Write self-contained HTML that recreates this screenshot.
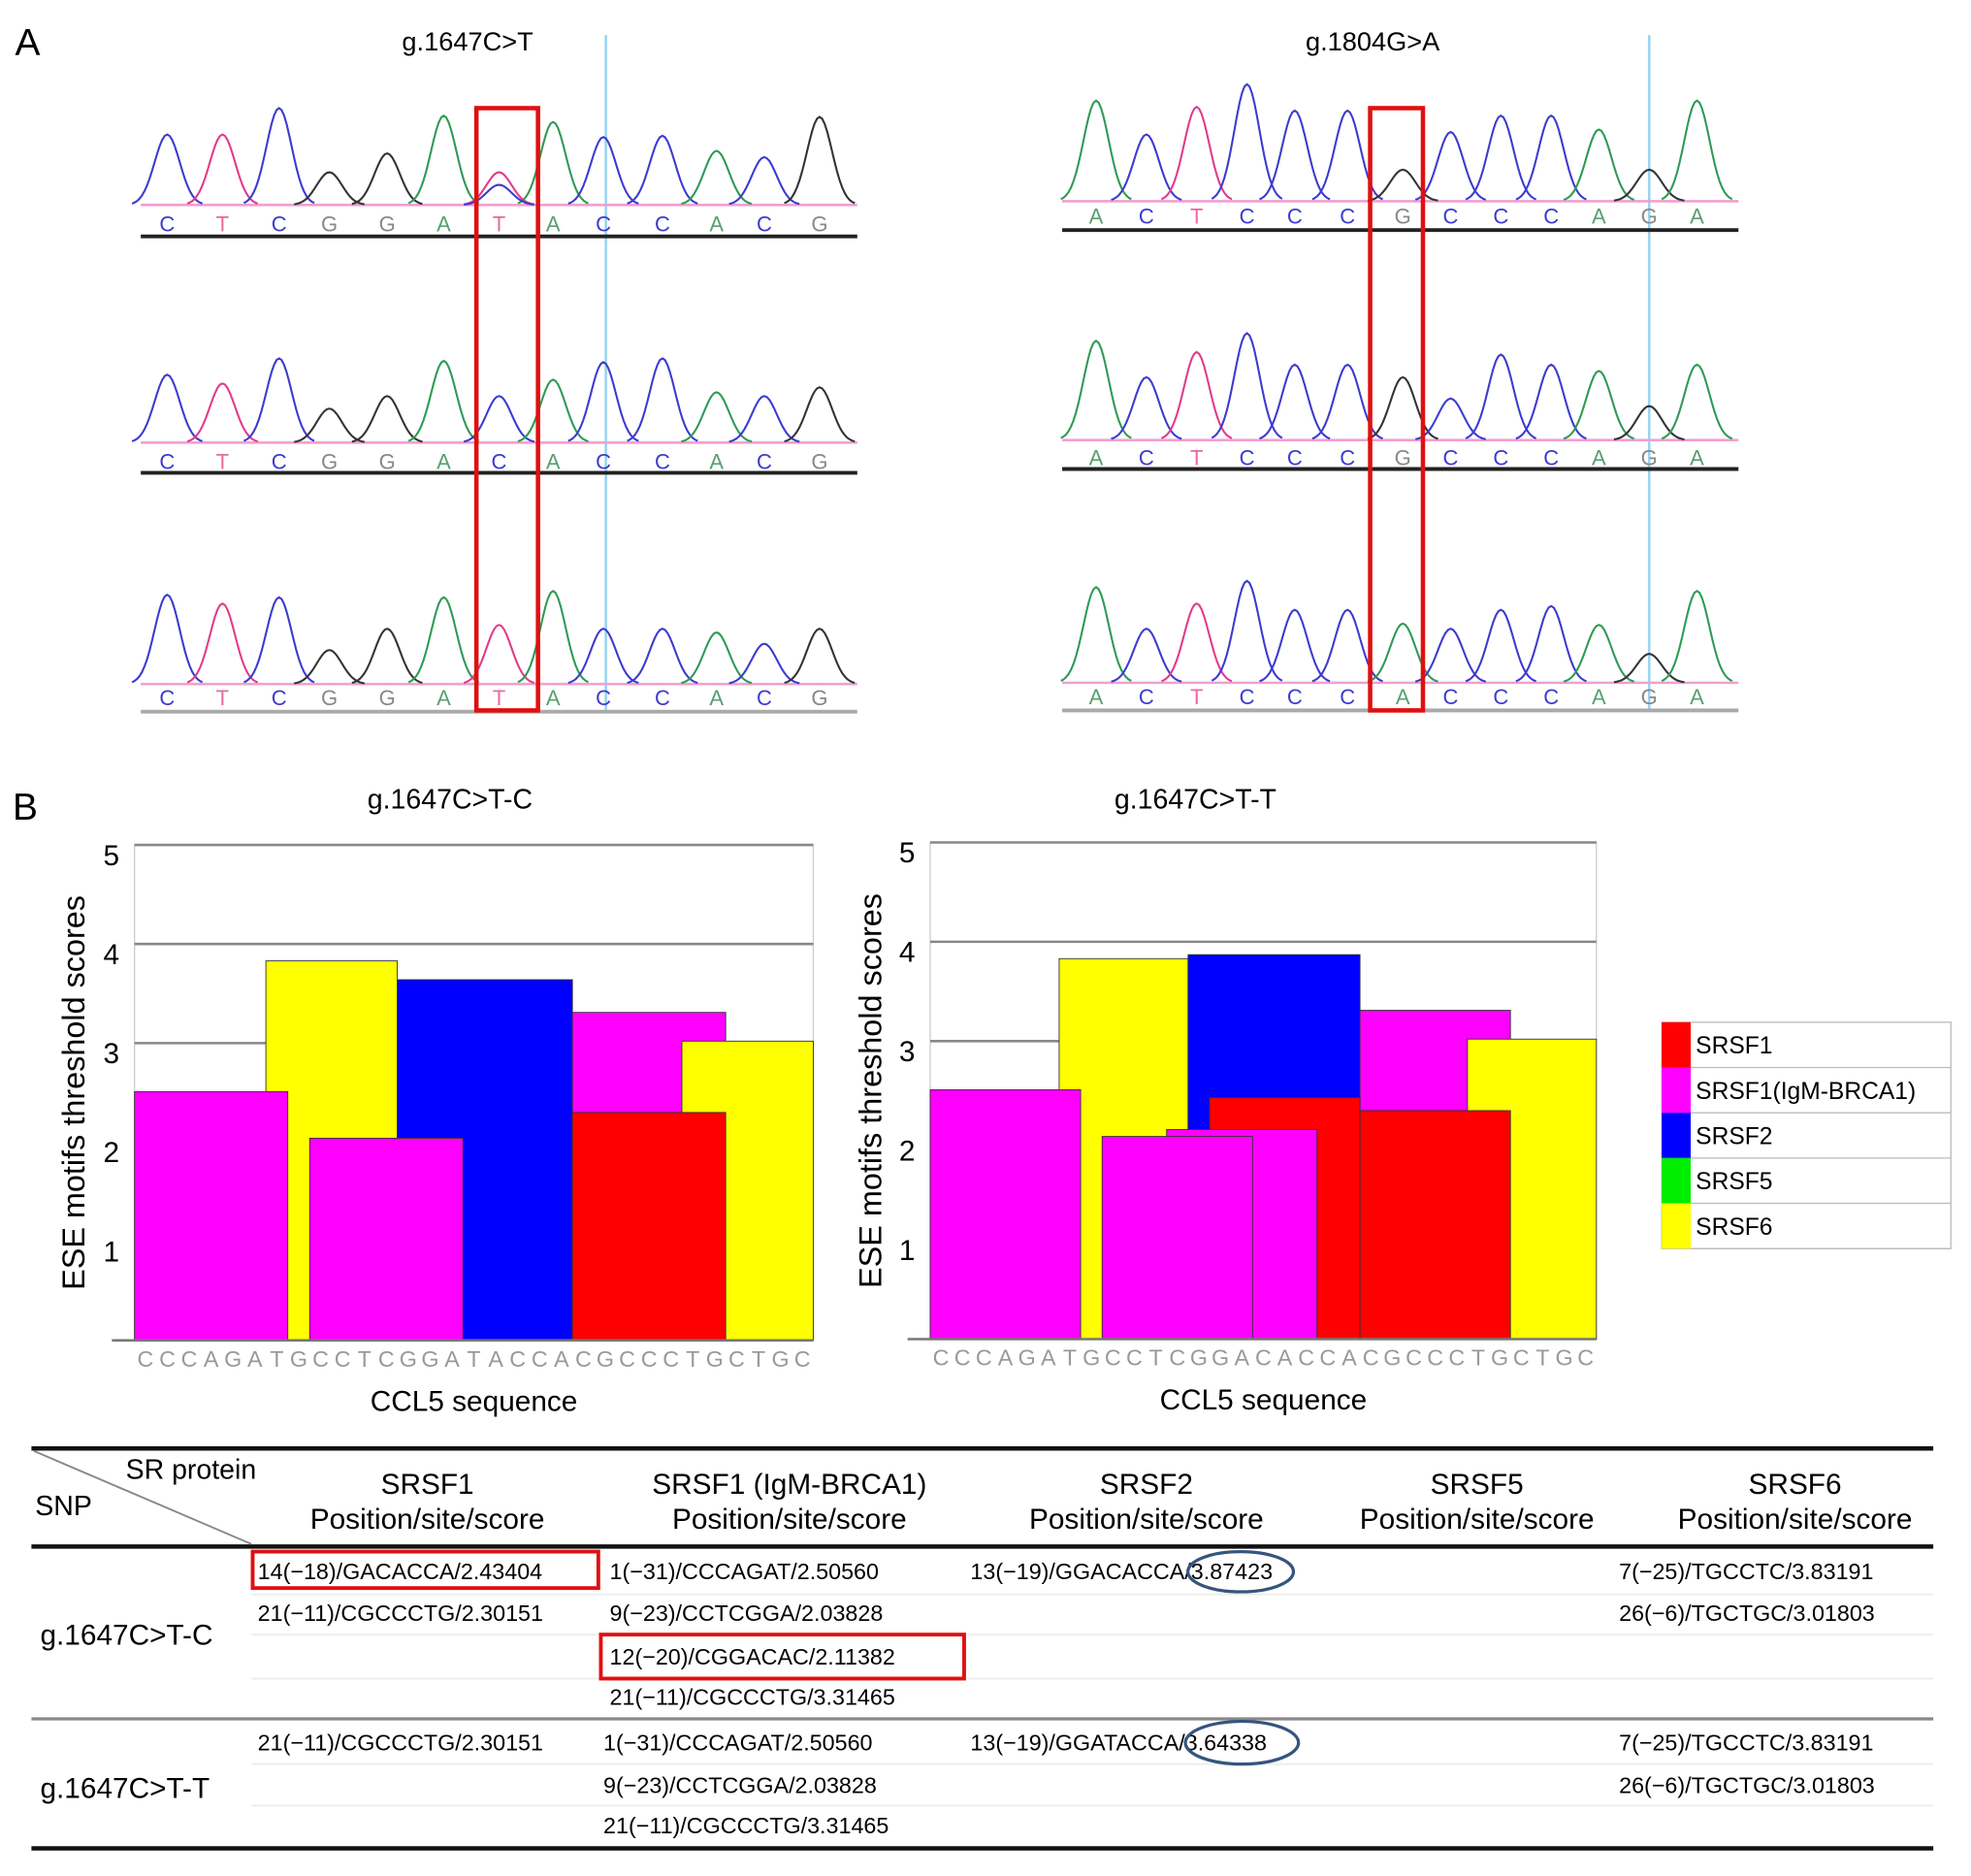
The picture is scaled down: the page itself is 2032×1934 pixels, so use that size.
<!DOCTYPE html>
<html><head><meta charset="utf-8"><style>
html,body{margin:0;padding:0;background:#fff;}
svg{display:block;font-family:"Liberation Sans",sans-serif;}
</style></head><body>
<svg id="fig" width="2032" height="1934" viewBox="0 0 1568 1492" preserveAspectRatio="none" xmlns="http://www.w3.org/2000/svg">
<rect width="1568" height="1492" fill="#fff"/>
<text x="12" y="44" font-size="30">A</text>
<text x="372" y="40" font-size="21" text-anchor="middle">g.1647C&gt;T</text>
<text x="1092" y="40" font-size="21" text-anchor="middle">g.1804G&gt;A</text>
<line x1="482" y1="28" x2="482" y2="566" stroke="#9cd4ef" stroke-width="2"/>
<line x1="1312" y1="28" x2="1312" y2="566" stroke="#9cd4ef" stroke-width="2"/>
<g id="chromo"></g>
<rect x="379" y="86" width="49" height="479" fill="none" stroke="#e01010" stroke-width="3.5"/>
<rect x="1090" y="86" width="42" height="479" fill="none" stroke="#e01010" stroke-width="3.5"/>

<text x="10" y="652" font-size="30">B</text>
<text x="358" y="643" font-size="22" text-anchor="middle">g.1647C&gt;T-C</text>
<text x="951" y="643" font-size="22" text-anchor="middle">g.1647C&gt;T-T</text>
<g id="charts"></g>

<g>
<rect x="1322" y="813" width="230" height="180" fill="#fff" stroke="#bbb"/>
</g>
<g id="legend"></g>

<g id="table"></g>
</svg>
<script>
// ---------- Chromatogram data ----------
const seqLeft = ["C","T","C","G","G","A","T","A","C","C","A","C","G"];
const seqLeftMid = ["C","T","C","G","G","A","C","A","C","C","A","C","G"];
const seqRight = ["A","C","T","C","C","C","G","C","C","C","A","G","A"];
const seqRightBot = ["A","C","T","C","C","C","A","C","C","C","A","G","A"];
const heightsL1 = [56,56,77,26,41,71,26,66,54,55,43,38,70];
const heightsL2 = [54,47,67,27,37,65,37,50,64,67,40,37,44];
const heightsL3 = [71,64,69,27,44,69,47,74,44,44,41,32,44];
const heightsR1 = [80,53,75,93,72,72,25,55,68,68,57,25,80];
const heightsR2 = [79,50,70,85,60,60,50,33,68,60,55,27,60];
const heightsR3 = [76,43,63,81,58,58,47,43,58,61,46,23,73];
const mixedPeakL1 = 16; // secondary C peak at T position

// ---------- ESE chart data ----------
const seqC = "CCCAGATGCCTCGGATACCACGCCCTGCTGC".split("");
const seqT = "CCCAGATGCCTCGGACACCACGCCCTGCTGC".split("");
const factorsC = ["SRSF6","SRSF2","SRSF1m","SRSF1m","SRSF1m","SRSF6","SRSF1"];
const startsC  = [7,13,1,9,21,26,21];
const lengthsC = [6,8,7,7,7,6,7];
const scoresC  = [3.83,3.64,2.51,2.04,3.31,3.02,2.30];
const factorsT = ["SRSF6","SRSF2","SRSF1m","SRSF1m","SRSF6","SRSF1","SRSF1","SRSF1m","SRSF1m"];
const startsT  = [7,13,1,21,26,14,21,12,9];
const lengthsT = [6,8,7,7,6,7,7,7,7];
const scoresT  = [3.83,3.87,2.51,3.31,3.02,2.43,2.30,2.11,2.04];
const yTicks = [1,2,3,4,5];
const legendLabels = ["SRSF1","SRSF1(IgM-BRCA1)","SRSF2","SRSF5","SRSF6"];
const legendKeys = ["SRSF1","SRSF1m","SRSF2","SRSF5","SRSF6"];

const NS="http://www.w3.org/2000/svg";
function mk(tag, attrs, parent){const e=document.createElementNS(NS,tag);for(const k in attrs)e.setAttribute(k,attrs[k]);parent.appendChild(e);return e;}
const baseCol={C:"#3b3bd0",T:"#e23a8a",G:"#333",A:"#2e9a55"};
const letterCol={C:"#3b3bd0",T:"#e86aa0",G:"#888",A:"#5aa070"};

const chromo=document.getElementById('chromo');
function peak(x,h,base,col,g){
  let d="";for(let i=-28;i<=28;i+=2){const y=base-h*Math.exp(-(i*i)/(2*10*10));d+=(i===-28?"M":"L")+(x+i)+","+y.toFixed(1);}
  const p=mk('path',{d:d,fill:"none",stroke:col,"stroke-width":1.6},g);
  
  
}
function panel(x0,x1,xs,seq,hs,base,letY,lineY,lineCol,name){
  const g=mk('g',{},chromo);
  
  
  mk('line',{x1:x0,y1:base,x2:x1,y2:base,stroke:"#f0a0d0","stroke-width":2},g);
  seq.forEach((b,i)=>{peak(xs[i],hs[i],base,baseCol[b],g);
    const t=mk('text',{x:xs[i],y:letY,"font-size":17,"text-anchor":"middle",fill:letterCol[b]},g);t.textContent=b;
    
    
  });
  mk('line',{x1:x0,y1:lineY,x2:x1,y2:lineY,stroke:lineCol,"stroke-width":3},g);
  return g;
}
const xsL=[133,177,222,262,308,353,397,440,480,527,570,608,652];
const xsR=[872,912,952,992,1030,1072,1116,1154,1194,1234,1272,1312,1350];
const g1=panel(112,682,xsL,seqLeft,heightsL1,163,184,188,"#222","chromatogram-left-top");
peak(397,mixedPeakL1,163,baseCol.C,g1);
panel(112,682,xsL,seqLeftMid,heightsL2,352,373,376,"#222","chromatogram-left-mid");
panel(112,682,xsL,seqLeft,heightsL3,544,561,566,"#aaa","chromatogram-left-bottom");
panel(845,1383,xsR,seqRight,heightsR1,160,178,183,"#222","chromatogram-right-top");
panel(845,1383,xsR,seqRight,heightsR2,350,370,373,"#222","chromatogram-right-mid");
panel(845,1383,xsR,seqRightBot,heightsR3,543,560,565,"#aaa","chromatogram-right-bottom");

// ---------- ESE charts ----------
const fcol={SRSF1:"#ff0000",SRSF1m:"#ff00ff",SRSF2:"#0000ff",SRSF5:"#00ee00",SRSF6:"#ffff00"};
const charts=document.getElementById('charts');
function chart(x0,x1,yTop,yBase,seq,factors,starts,lengths,scores,labelX,name){
  const g=mk('g',{},charts);
  
  
  const sy=v=>yBase-(yBase-yTop)*v/5;
  const step=(x1-x0)/seq.length;
  const sx=p=>x0+(p-1)*step;
  mk('rect',{x:x0,y:yTop,width:x1-x0,height:yBase-yTop,fill:"#fff",stroke:"#ccc"},g);
  yTicks.forEach(v=>{
    if(v>=3){const l=mk('line',{x1:x0,y1:sy(v),x2:x1,y2:sy(v),stroke:"#888","stroke-width":2},g);
      }
    const t=mk('text',{x:x0-12,y:sy(v)+16,"font-size":23,"text-anchor":"end"},g);t.textContent=v;
    
    
  });
  factors.forEach((f,i)=>{
    const r=mk('rect',{x:sx(starts[i]),y:sy(scores[i]),width:lengths[i]*step,height:yBase-sy(scores[i]),fill:fcol[f],stroke:"#333","stroke-width":0.7},g);
    
    
  });
  mk('line',{x1:x0-18,y1:yBase,x2:x1,y2:yBase,stroke:"#777","stroke-width":2},g);
  seq.forEach((c,i)=>{const t=mk('text',{x:x0+(i+0.5)*step,y:yBase+21,"font-size":18,"text-anchor":"middle",fill:"#999"},g);t.textContent=c;
    
    });
  const xt=mk('text',{x:(x0+x1)/2,y:yBase+56,"font-size":23,"text-anchor":"middle"},g);xt.textContent="CCL5 sequence";
  
  
  const yt=mk('text',{x:0,y:0,"font-size":25,"text-anchor":"middle",transform:`translate(${labelX},${(yTop+yBase)/2}) rotate(-90)`},g);yt.textContent="ESE motifs threshold scores";
  
  
}
chart(107,647,672,1066,seqC,factorsC,startsC,lengthsC,scoresC,67,"chart-c");
chart(740,1270,670,1065,seqT,factorsT,startsT,lengthsT,scoresT,701,"chart-t");

const lg=document.getElementById('legend');
legendLabels.forEach((lab,i)=>{
  const y=813+i*36;
  const r=mk('rect',{x:1322,y:y,width:23,height:36,fill:fcol[legendKeys[i]]},lg);
  
  
  mk('line',{x1:1345,y1:y+36,x2:1552,y2:y+36,stroke:"#bbb"},lg);
  const t=mk('text',{x:1349,y:y+25,"font-size":19},lg);t.textContent=lab;
  
  
});

// ---------- Table ----------
const tb=document.getElementById('table');
function txt(x,y,s,size,anchor,name){const t=mk('text',{x:x,y:y,"font-size":size,"text-anchor":anchor||"start"},tb);t.textContent=s;
  
  return t;}
[1268,1300,1335,1403,1436].forEach(y=>mk('line',{x1:200,y1:y,x2:1538,y2:y,stroke:"#eee","stroke-width":1.5},tb));
mk('line',{x1:25,y1:1152,x2:1538,y2:1152,stroke:"#111","stroke-width":3.5},tb);
mk('line',{x1:25,y1:1230,x2:1538,y2:1230,stroke:"#111","stroke-width":3.5},tb);
mk('line',{x1:25,y1:1367,x2:1538,y2:1367,stroke:"#888","stroke-width":2.5},tb);
mk('line',{x1:25,y1:1470,x2:1538,y2:1470,stroke:"#111","stroke-width":3.5},tb);
mk('line',{x1:27,y1:1154,x2:200,y2:1228,stroke:"#888","stroke-width":1.5},tb);
txt(100,1176,"SR protein",22,"start","header-sr-protein");
txt(28,1205,"SNP",22,"start","header-snp");
const heads=[["SRSF1",340],["SRSF1 (IgM-BRCA1)",628],["SRSF2",912],["SRSF5",1175],["SRSF6",1428]];
heads.forEach(h=>{txt(h[1],1188,h[0],23,"middle","column-header");txt(h[1],1216,"Position/site/score",23,"middle","column-subheader");});
txt(32,1308,"g.1647C>T-C",23,"start","row-label-c");
txt(32,1430,"g.1647C>T-T",23,"start","row-label-t");
const cells=[
[205,1256,"14(\u221218)/GACACCA/2.43404"],[205,1289,"21(\u221211)/CGCCCTG/2.30151"],
[485,1256,"1(\u221231)/CCCAGAT/2.50560"],[485,1289,"9(\u221223)/CCTCGGA/2.03828"],[485,1324,"12(\u221220)/CGGACAC/2.11382"],[485,1356,"21(\u221211)/CGCCCTG/3.31465"],
[772,1256,"13(\u221219)/GGACACCA/3.87423"],[1288,1256,"7(\u221225)/TGCCTC/3.83191"],[1288,1289,"26(\u22126)/TGCTGC/3.01803"],
[205,1392,"21(\u221211)/CGCCCTG/2.30151"],[480,1392,"1(\u221231)/CCCAGAT/2.50560"],[480,1426,"9(\u221223)/CCTCGGA/2.03828"],[480,1458,"21(\u221211)/CGCCCTG/3.31465"],
[772,1392,"13(\u221219)/GGATACCA/3.64338"],[1288,1392,"7(\u221225)/TGCCTC/3.83191"],[1288,1426,"26(\u22126)/TGCTGC/3.01803"]];
cells.forEach(c=>txt(c[0],c[1],c[2],18,"start","table-cell"));
const b1=mk('rect',{x:201,y:1234,width:275,height:29,fill:"none",stroke:"#e01010","stroke-width":3},tb);

const b2=mk('rect',{x:478,y:1300,width:289,height:35,fill:"none",stroke:"#e01010","stroke-width":3},tb);

const e1=mk('ellipse',{cx:987,cy:1250,rx:42,ry:16,fill:"none",stroke:"#35557f","stroke-width":2.5},tb);

const e2=mk('ellipse',{cx:988,cy:1386,rx:45,ry:17,fill:"none",stroke:"#35557f","stroke-width":2.5},tb);

</script>
</body></html>
